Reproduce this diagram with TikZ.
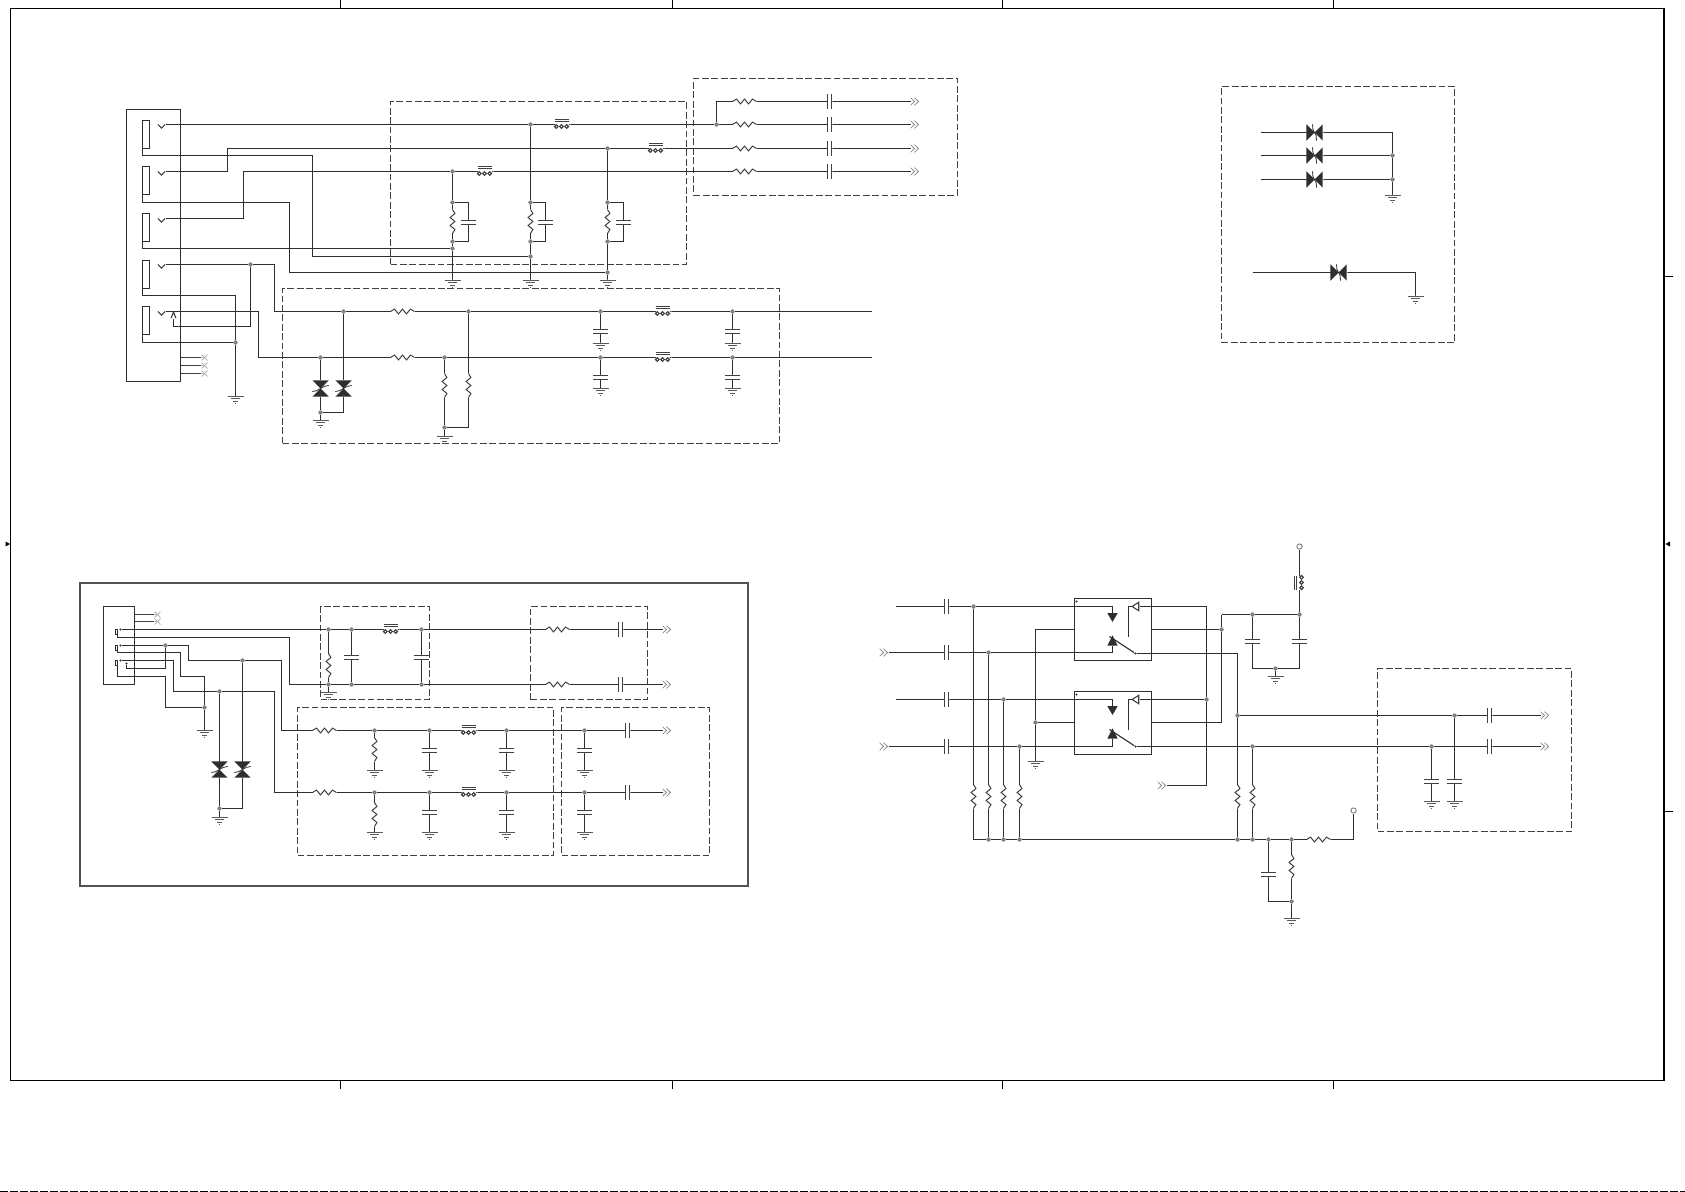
\documentclass[tikz,border=0pt]{standalone}
\usetikzlibrary{fit}
\definecolor{wirec}{HTML}{2E2E2E}
\definecolor{partc}{HTML}{404040}
\definecolor{jc}{HTML}{7F7F7F}
\newcommand\sym[2][]{\begin{scope}[shift={(path picture bounding box.center)},#1]#2\end{scope}}
\newcommand\putall[2]{\foreach \n/\x/\y in {#2} {\pgfmathsetmacro\xx{floor(\x)+.5}\pgfmathsetmacro\yy{floor(\y)+.5}\node[#1] (\n) at (\xx,\yy) {};}}
\newcommand\corners[1]{\foreach \n/\x/\y in {#1} {\pgfmathsetmacro\xx{floor(\x)+.5}\pgfmathsetmacro\yy{floor(\y)+.5}\coordinate (\n) at (\xx,\yy);}}
\newcommand\fitbox[6]{\pgfmathsetmacro\xa{floor(#3)+.5}\pgfmathsetmacro\ya{floor(#4)+.5}\pgfmathsetmacro\xb{floor(#5)+.5}\pgfmathsetmacro\yb{floor(#6)+.5}\node[#1,fit={(\xa,\ya)(\xb,\yb)}] (#2) {};}
\tikzset{
 wire/.style={draw=wirec,line width=0.56pt},
 part/.style={draw=partc,line width=0.5pt},
 base/.style={shape=rectangle,inner sep=0pt,outer sep=0pt},
 boxn/.style={base,draw=wirec,line width=0.56pt},
 dbox/.style={base,draw=partc,line width=0.5pt,dash pattern=on 3.4pt off 1.3pt},
 jn/.style={shape=circle,fill=jc,inner sep=0pt,minimum size=2.2pt},
 term/.style={shape=circle,draw=jc,fill=white,line width=0.45pt,inner sep=0pt,minimum size=2.6pt},
 hres/.style={base,minimum width=12pt,minimum height=3.4pt,path picture={\sym{\draw[part](-12,0)--(-8,-2.4)--(-4,2.4)--(0,-2.4)--(4,2.4)--(8,-2.4)--(12,0);}}},
 vres/.style={base,minimum width=3.4pt,minimum height=12pt,path picture={\sym{\draw[part](0,-12)--(2.4,-8)--(-2.4,-4)--(2.4,0)--(-2.4,4)--(2.4,8)--(0,12);}}},
 hcap/.style={base,minimum width=3pt,minimum height=8pt,path picture={\sym{\draw[part,line width=.56pt](-2,-7.5)--(-2,7.5)(2,-7.5)--(2,7.5)(-3,0)--(-2,0)(2,0)--(3,0);}}},
 vcap/.style={base,minimum width=8pt,minimum height=3pt,path picture={\sym{\draw[part,line width=.56pt](-7.5,-2)--(7.5,-2)(-7.5,2)--(7.5,2)(0,-3)--(0,-2)(0,2)--(0,3);}}},
 fer/.style={base,minimum width=9pt,minimum height=7.4pt,path picture={\sym{\draw[part](-7,-5)--(7,-5)(-7,-3)--(7,-3)(-9,0)--(-7,0)(7,0)--(9,0);\draw[part,line width=.56pt](-5.2,2) circle (1.8)(0,2) circle (1.8)(5.2,2) circle (1.8);}}},
 vfer/.style={base,minimum width=7.4pt,minimum height=9pt,path picture={\sym{\draw[part](-5,-7)--(-5,7)(-3,-7)--(-3,7)(0,-9)--(0,-7)(0,7)--(0,9);\draw[part,line width=.56pt](2,-5.2) circle (1.8)(2,0) circle (1.8)(2,5.2) circle (1.8);}}},
 gnd/.style={base,anchor=north,minimum width=9pt,minimum height=4.6pt,path picture={\sym{\draw[draw=jc!70!black,line width=.5pt](-8,-4)--(8,-4)(-4.8,-1.4)--(4.8,-1.4)(-2.4,1.2)--(2.4,1.2)(-.7,3.6)--(.7,3.6)(0,-4.6)--(0,-4);}}},
 chevr/.style={base,anchor=west,minimum width=4.5pt,minimum height=4.4pt,path picture={\sym{\draw[draw=jc!90,line width=.4pt](-4.5,-3.8)--(-.5,0)--(-4.5,3.8)(-.5,-3.8)--(3.5,0)--(-.5,3.8);}}},
 chevl/.style={chevr,anchor=east},
 vmk/.style={base,minimum width=4pt,minimum height=4pt,path picture={\sym{\draw[part,line width=.55pt](-3.6,0)--(0,3.6)--(3.6,0);}}},
 umk/.style={base,minimum width=3pt,minimum height=3.6pt,path picture={\sym{\draw[part,line width=.55pt](-2.4,3.2)--(0,-3.2)--(2.4,3.2);}}},
 xmk/.style={base,minimum width=3.2pt,minimum height=3.2pt,path picture={\sym{\draw[draw=black!28,line width=.4pt](-3,-3)--(3,3)(-3,3)--(3,-3)(-3.2,0)--(0,0);}}},
 tvv/.style={base,minimum width=9pt,minimum height=9pt,path picture={\sym{\fill[wirec](-8.2,-8.2)--(8.2,-8.2)--(0,0)--(8.2,8.2)--(-8.2,8.2)--(0,0)--cycle;\draw[part](0,-9)--(0,-8)(0,8)--(0,9);\draw[wirec,line width=.4pt](-8.2,3)--(-4,2.2)--(4,-2.2)--(8.2,-3);}}},
 tvh/.style={base,minimum width=9pt,minimum height=9pt,path picture={\sym{\fill[wirec](-8.2,-8.2)--(-8.2,8.2)--(0,0)--(8.2,8.2)--(8.2,-8.2)--(0,0)--cycle;\draw[part](-9,0)--(-8,0)(8,0)--(9,0);\draw[wirec,line width=.4pt](-2,-8.2)--(-1.6,-3)--(1.6,3)--(2,8.2);}}},
 tdn/.style={base,minimum width=5.6pt,minimum height=4.6pt,path picture={\sym{\fill[wirec](-5.2,-4.4)--(5.2,-4.4)--(0,4.4)--cycle;}}},
 tun/.style={base,minimum width=5.6pt,minimum height=5.4pt,path picture={\sym{\fill[wirec](-5.2,5.2)--(5.2,5.2)--(0,-5.2)--cycle;}}},
 tlf/.style={base,minimum width=4pt,minimum height=5pt,path picture={\sym{\draw[part,line width=.55pt](3.2,-4.2)--(-3.4,0)--(3.2,4.2)--cycle;}}},
 dotb/.style={shape=circle,fill=wirec,inner sep=0pt,minimum size=1.2pt},
}
\begin{document}
\begin{tikzpicture}[x=0.5pt,y=-0.5pt]
\useasboundingbox (0,0) rectangle (1685,1192);
\fill[white] (0,0) rectangle (1685,1192);
% sheet frame
\node[base,draw=black,line width=.7pt,fit={(10.5,8.5)(1664,1080.5)}] (sheet) {};
\corners{tt1/340.3/0,tt2/672/0,tt3/1002.6/0,tt4/1333/0,tb1/340.3/1088,tb2/672/1088,tb3/1002.6/1088,tb4/1333/1088,tr1/1672/276,tr2/1672/811.5}
\foreach \a in {1,2,3,4}{\draw[black,line width=.6pt](tt\a)--(tt\a |- sheet.north);\draw[black,line width=.6pt](tb\a)--(tb\a |- sheet.south);}
\foreach \a in {1,2}{\draw[black,line width=.6pt](tr\a)--(tr\a -| sheet.east);}
\fill[black](5.5,541.5)--(10,544)--(5.5,546.5)--cycle;
\fill[black](1670,541.5)--(1665.5,544)--(1670,546.5)--cycle;
\draw[black,line width=.5pt,dash pattern=on 4pt off 1pt](0,1191.2)--(1685,1191.2);
% dashed blocks
\fitbox{dbox}{dA1}{390.7}{101.3}{686.3}{264.3}
\fitbox{dbox}{dA2}{693.3}{78.3}{957.7}{195.3}
\fitbox{dbox}{dA3}{282.3}{288.3}{779.3}{443.3}
\fitbox{dbox}{dC}{1221.3}{86.3}{1454.3}{342.3}
\fitbox{dbox}{dD}{1377.3}{668.3}{1571.7}{831.7}
\fitbox{dbox}{dB1}{320.3}{606.3}{429.3}{699.3}
\fitbox{dbox}{dB2}{530.3}{606.3}{647.3}{699.3}
\fitbox{dbox}{dB3}{297.3}{707}{553.3}{855.3}
\fitbox{dbox}{dB4}{561.3}{707}{709.3}{855.3}
\node[base,draw=black!68,line width=1pt,fit={(79.7,583)(748.3,885.7)}] (frmB) {};
% ---------- block A ----------
\fitbox{boxn}{cA}{126.7}{109.3}{180.7}{381.3}
\fitbox{boxn}{pA1}{142.3}{120}{149.7}{148.3}
\fitbox{boxn}{pA2}{142.3}{166.3}{149.7}{194.3}
\fitbox{boxn}{pA3}{142.3}{213.3}{149.7}{241.3}
\fitbox{boxn}{pA4}{142.3}{260}{149.7}{288.3}
\fitbox{boxn}{pA5}{142.3}{306.3}{149.7}{334.3}
\putall{vmk}{vA1/161.7/124.3,vA2/161.7/171,vA3/161.7/218.3,vA4/161.7/264.3,vA5/161.7/311.3}
\node[umk] (uA) at (173.5,315) {};
\putall{jn}{a1/530/124.3,a2/716.3/124.3,a3/607.7/148.3,a4/452.3/171.3,a5/452.3/202.3,a6/452.3/241,a7/452.3/248.7,a8/530/202.3,a9/530/241,a10/530/256.5,a11/607.7/202.3,a12/607.7/241,a13/607.7/272.2,a14/250.3/264.3,a15/343.3/311.3,a16/468/311.3,a17/600/311.3,a18/732/311.3,a19/320.3/357.3,a20/444.3/357.3,a21/600/357.3,a22/732/357.3,a23/320.3/412.3,a24/444.3/427.3,a25/235.3/342.3}
\putall{fer}{fA1/561.7/124.3,fA2/655/148.3,fA3/484/171.3,fA5/662.3/311.3,fA6/662.3/357.3}
\putall{hres}{rA1/744/101.3,rA2/744/124.3,rA3/744/148.3,rA4/744/171.3,rA5/402.3/311.3,rA6/402.3/357.3}
\putall{hcap}{cA1/829.3/101.3,cA2/829.3/124.3,cA3/829.3/148.3,cA4/829.3/171.3}
\putall{chevr}{hA1/910.7/101.3,hA2/910.7/124.3,hA3/910.7/148.3,hA4/910.7/171.3}
\putall{vres}{vrA1/452.3/221.7,vrA2/530/221.7,vrA3/607.7/221.7,vrA4/444.3/385,vrA5/468/385}
\putall{vcap}{vcA1/468.3/222,vcA2/545.3/222,vcA3/623.3/222,vcA4/600/331.6,vcA5/732/331.6,vcA6/600/377.5,vcA7/732/377.5}
\putall{gnd}{gA1/452.3/279.5,gA2/530/279.5,gA3/607.7/279.5,gA4/600/342.2,gA5/732/342.2,gA6/600/387.8,gA7/732/387.8,gA8/320.3/419,gA9/444.3/435,gA10/235.3/395.5}
\putall{tvv}{tA1/343.3/388.3,tA2/320.3/388.3}
\putall{xmk}{xA1/204/357.3,xA2/204/365.3,xA3/204/373.3}
\corners{kA2/227.7/148.3,kA3/243.3/171.3,kA4/274.3/311.3,kA5/173.3/326.3,kA6/258.3/357.3,tA1c/312.3/155.3,tA2c/289.3/202.3,tA4c/235.3/295.3,eA5/871.7/311.3,eA6/871.7/357.3,sA1/180.7/357.3,sA2/180.7/365.3,sA3/180.7/373.3}
\foreach \a in {1,2,3}{\draw[wire,line width=.45pt,draw=partc](sA\a)--(xA\a);}
\draw[wire](vA1)--(a1)--(fA1)--(a2)--(rA2)--(cA2)--(hA2);
\draw[wire](a2)|-(rA1);
\draw[wire](rA1)--(cA1)--(hA1);
\draw[wire](vA2)-|(kA2)--(a3)--(fA2)--(rA3)--(cA3)--(hA3);
\draw[wire](vA3)-|(kA3)--(a4)--(fA3)--(rA4)--(cA4)--(hA4);
\draw[wire](a4)--(a5)--(vrA1)--(a6)--(a7)--(gA1.north);
\draw[wire](a5)-|(vcA1)|-(a6);
\draw[wire](a1)--(a8)--(vrA2)--(a9)--(a10)--(gA2.north);
\draw[wire](a8)-|(vcA2)|-(a9);
\draw[wire](a3)--(a11)--(vrA3)--(a12)--(a13)--(gA3.north);
\draw[wire](a11)-|(vcA3)|-(a12);
\draw[wire](pA1.south west)|-(tA1c)|-(a10);
\draw[wire](pA2.south west)|-(tA2c)|-(a13);
\draw[wire](pA3.south west)|-(a7);
\draw[wire](vA4)--(a14)-|(kA4)--(a15)--(rA5)--(a16)--(a17)--(fA5)--(a18)--(eA5);
\draw[wire](a14)|-(kA5)--(uA.south);
\draw[wire](vA5)-|(kA6)--(a19)--(rA6)--(a20)--(a21)--(fA6)--(a22)--(eA6);
\draw[wire](a15)--(tA1)|-(a23);
\draw[wire](a19)--(tA2)--(a23)--(gA8.north);
\draw[wire](a20)--(vrA4)--(a24)--(gA9.north);
\draw[wire](a16)--(vrA5)|-(a24);
\draw[wire](a17)--(vcA4)--(gA4.north);
\draw[wire](a18)--(vcA5)--(gA5.north);
\draw[wire](a21)--(vcA6)--(gA6.north);
\draw[wire](a22)--(vcA7)--(gA7.north);
\draw[wire](pA4.south west)|-(tA4c)--(a25)--(gA10.north);
\draw[wire](pA5.south west)|-(a25);
% ---------- block B ----------
\fitbox{boxn}{cB}{103.3}{606.3}{134.7}{684.3}
\fitbox{boxn,line width=.45pt}{pB1}{115.3}{629.3}{117.7}{634.7}
\fitbox{boxn,line width=.45pt}{pB2}{115.3}{645}{117.7}{650}
\fitbox{boxn,line width=.45pt}{pB3}{115.3}{660.3}{117.7}{665.7}
\putall{dotb}{dB1x/120/629.3,dB2x/120/645.3,dB3x/120/660.3,mB/126.3/663.5}
\putall{jn}{b1/328.3/629.3,b2/351.3/629.3,b3/421.3/629.3,b4/328.3/684.3,b5/351.3/684.3,b6/421.3/684.3,b7/165/645.3,b8/242.7/660.3,b9/204.3/707,b10/219.3/691.3,b11/219.3/808.3,b12/374.3/730.3,b13/429.3/730.3,b14/506.7/730.3,b15/584.3/730.3,b16/374.3/792.3,b17/429.3/792.3,b18/506.7/792.3,b19/584.3/792.3}
\putall{fer}{fB1/390.3/629.3,fB2/468.3/730.3,fB3/468.3/792.3}
\putall{hres}{rB1/557.3/629.3,rB2/557.3/684.3,rB3/324.3/730.3,rB4/324.3/792.3}
\putall{hcap}{cB1/620/629.3,cB2/620/684.3,cB3/627.7/730.3,cB4/627.7/792.3}
\putall{chevr}{hB1/662.3/629.3,hB2/662.3/684.3,hB3/662.3/730.3,hB4/662.3/792.3}
\putall{vres}{vrB1/328.3/665,vrB2/374.3/749.7,vrB3/374.3/814.3}
\putall{vcap}{vcB1/351.3/657.3,vcB2/421.3/657.3,vcB3/429.3/750.5,vcB4/506.7/750.5,vcB5/584.3/750.5,vcB6/429.3/812.5,vcB7/506.7/812.5,vcB8/584.3/812.5}
\putall{gnd}{gB1/328.3/691.4,gB2/204.3/729.6,gB3/219.3/816,gB4/374.3/769.3,gB5/429.3/769.3,gB6/506.7/769.3,gB7/584.3/769.3,gB8/374.3/831.3,gB9/429.3/831.3,gB10/506.7/831.3,gB11/584.3/831.3}
\putall{tvv}{tB1/219.3/769.3,tB2/242.7/769.3}
\putall{xmk}{xB1/157.3/614.3,xB2/157.3/621.7}
\corners{sB1/134.7/614.3,sB2/134.7/621.7,kB1/289.3/637.3,kB2/188.3/645.3,kB3/281.3/660.3,kB4/126.3/668.3,kB5/180.3/652.3,kB6/204.3/676.3,kB7/173.3/660.3,kB8/274/691.3,kB9/165.7/676.3}
\foreach \a in {1,2}{\draw[wire,line width=.45pt,draw=partc](sB\a)--(xB\a);}
\draw[wire](dB1x)--(b1)--(b2)--(fB1)--(b3)--(rB1)--(cB1)--(hB1);
\draw[wire](pB1.south east)|-(kB1)|-(b4);
\draw[wire](b4)--(b5)--(b6)--(rB2)--(cB2)--(hB2);
\draw[wire](b1)--(vrB1)--(b4)--(gB1.north);
\draw[wire](b2)--(vcB1)--(b5);
\draw[wire](b3)--(vcB2)--(b6);
\draw[wire](dB2x)--(b7)--(kB2)|-(b8);
\draw[wire](b8)--(kB3)|-(rB3);
\draw[wire](b7)|-(kB4)--(mB);
\draw[wire](pB2.south east)|-(kB5)|-(kB6)--(b9)--(gB2.north);
\draw[wire](dB3x)--(kB7)|-(b10);
\draw[wire](b10)--(kB8)|-(rB4);
\draw[wire](pB3.south east)|-(kB9)|-(b9);
\draw[wire](b10)--(tB1)--(b11)--(gB3.north);
\draw[wire](b8)--(tB2)|-(b11);
\draw[wire](rB3)--(b12)--(b13)--(fB2)--(b14)--(b15)--(cB3)--(hB3);
\draw[wire](rB4)--(b16)--(b17)--(fB3)--(b18)--(b19)--(cB4)--(hB4);
\draw[wire](b12)--(vrB2)--(gB4.north);
\draw[wire](b16)--(vrB3)--(gB8.north);
\draw[wire](b13)--(vcB3)--(gB5.north);
\draw[wire](b14)--(vcB4)--(gB6.north);
\draw[wire](b15)--(vcB5)--(gB7.north);
\draw[wire](b17)--(vcB6)--(gB9.north);
\draw[wire](b18)--(vcB7)--(gB10.north);
\draw[wire](b19)--(vcB8)--(gB11.north);
% ---------- block C ----------
\putall{tvh}{tC1/1314.3/132.3,tC2/1314.3/155.3,tC3/1314.3/179,tC4/1338/272.3}
\putall{jn}{c1/1392.3/155.3,c2/1392.3/179}
\putall{gnd}{gC1/1392.3/194,gC2/1415.3/295}
\corners{sC1/1260/132.3,sC2/1260/155.3,sC3/1260/179,sC4/1252/272.3,kC1/1392.3/132.3}
\draw[wire](sC1)--(tC1)--(kC1)--(c1)--(c2)--(gC1.north);
\draw[wire](sC2)--(tC2)--(c1);
\draw[wire](sC3)--(tC3)--(c2);
\draw[wire](sC4)--(tC4)-|(gC2.north);
% ---------- block D ----------
\fitbox{boxn}{sw1}{1074.3}{598.3}{1151.7}{660.3}
\fitbox{boxn}{sw2}{1074.3}{691.3}{1151.7}{754.3}
\putall{dotb}{q1/1076.7/601.3,q2/1076.7/694.3,e1/1135/653,e2/1135/746.3}
\putall{tdn}{tD1/1112.3/617.5,tD2/1112.3/710.5}
\putall{tun}{uD1/1112.3/640.8,uD2/1112.3/733.8}
\putall{tlf}{lD1/1135.5/606.3,lD2/1135.5/699.3}
\putall{hcap}{cD1/946.3/606.3,cD2/946.3/652.7,cD3/946.3/699.3,cD4/946.3/746.3,cD5/1489.3/715.3,cD6/1489.3/746.3}
\putall{chevl}{hD1/888/652.7,hD2/888/746.3,hD3/1166.7/785.3}
\putall{chevr}{hD4/1540/715.3,hD5/1540/746.3}
\putall{jn}{d1/973/606.3,d2/988.3/652.7,d3/1003.7/699.3,d4/1019.3/746.3,d5/988.3/839.3,d6/1003.7/839.3,d7/1019.3/839.3,d8/1035/722.7,d9/1206.7/699.3,d10/1221.3/629.3,d11/1252.3/614.3,d12/1299/614.3,d13/1275.7/668.3,d14/1237.3/715.3,d15/1252.3/746.3,d16/1237.3/839.3,d17/1252.3/839.3,d18/1268/839.3,d19/1291.3/839.3,d20/1291.3/901.3,d21/1431/746.3,d22/1454.3/715.3}
\putall{vres}{vrD1/973/796,vrD2/988.3/796,vrD3/1003.7/796,vrD4/1019.3/796,vrD5/1237.3/796,vrD6/1252.3/796,vrD7/1291.3/866.7}
\putall{vcap}{vcD1/1252.3/641,vcD2/1299/641,vcD3/1268/874,vcD4/1431/781.5,vcD5/1454.3/781.5}
\putall{gnd}{gD1/1035/760.6,gD2/1275.7/675.6,gD3/1291.3/917,gD4/1431/800.3,gD5/1454.3/800.3}
\putall{term}{oD1/1299/546.3,oD2/1353.3/810.3}
\putall{vfer}{fD1/1299/582.7}
\putall{hres}{rD1/1318.7/839.3}
\corners{sD1/895/606.3,sD3/895/699.3,kD1/973/839.3,kD2/1206.7/606.3,kD3/1206.7/785.3,kD4/1221.3/614.3,kD5/1221.3/722.7,kD6/1035/629.3,kD7/1237.3/653,b1L/1074.3/629.3,b2L/1074.3/722.7,b1R/1151.7/629.3,b2R/1151.7/722.7,sw1a/1109.3/636,sw2a/1109.3/729,sw1t/1128.3/636.7,sw2t/1128.3/729.7}
\draw[wire](sD1)--(cD1)--(d1)-|(tD1.north);
\draw[wire](hD1)--(cD2)--(d2)-|(uD1.south);
\draw[wire](sD3)--(cD3)--(d3)-|(tD2.north);
\draw[wire](hD2)--(cD4)--(d4)-|(uD2.south);
\draw[wire](sw1a)--(e1);
\draw[wire](sw2a)--(e2);
\draw[wire](sw1t)|-(lD1.west);
\draw[wire](sw2t)|-(lD2.west);
\draw[wire](lD1.east)--(kD2)--(d9)--(kD3)--(hD3);
\draw[wire](lD2.east)--(d9);
\draw[wire](b1R)--(d10);
\draw[wire](kD4)--(d10)--(kD5)--(b2R);
\draw[wire](kD4)--(d11)--(d12);
\draw[wire](oD1)--(fD1)--(d12);
\draw[wire](d11)--(vcD1)|-(d13);
\draw[wire](d12)--(vcD2)|-(d13);
\draw[wire](d13)--(gD2.north);
\draw[wire](b1L)--(kD6)--(d8)--(gD1.north);
\draw[wire](d8)--(b2L);
\draw[wire](d1)--(vrD1)--(kD1)--(d5)--(d6)--(d7)--(d16)--(d17)--(d18)--(d19)--(rD1)-|(oD2);
\draw[wire](d2)--(vrD2)--(d5);
\draw[wire](d3)--(vrD3)--(d6);
\draw[wire](d4)--(vrD4)--(d7);
\draw[wire](e1)--(kD7)--(d14)--(vrD5)--(d16);
\draw[wire](e2)--(d15)--(d21)--(cD6)--(hD5);
\draw[wire](d15)--(vrD6)--(d17);
\draw[wire](d14)--(d22)--(cD5)--(hD4);
\draw[wire](d18)--(vcD3)|-(d20);
\draw[wire](d19)--(vrD7)--(d20)--(gD3.north);
\draw[wire](d21)--(vcD4)--(gD4.north);
\draw[wire](d22)--(vcD5)--(gD5.north);
\end{tikzpicture}
\end{document}
